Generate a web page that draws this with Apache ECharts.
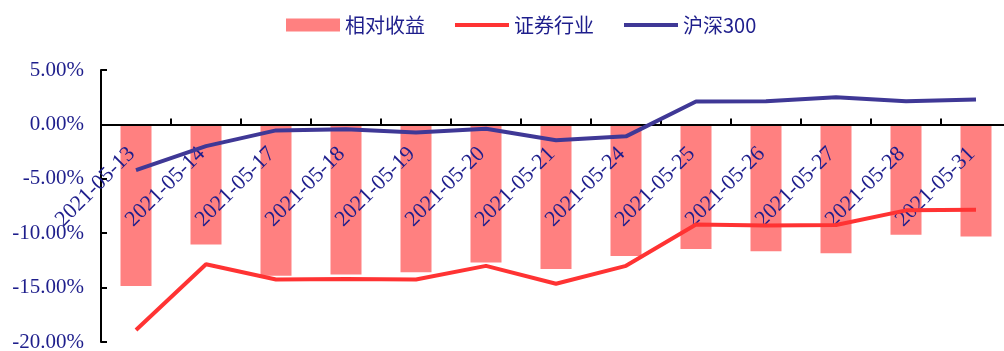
<!DOCTYPE html>
<html>
<head>
<meta charset="utf-8">
<script src="https://cdn.jsdelivr.net/npm/echarts@6/dist/echarts.min.js"></script>
<style>
  html, body { margin: 0; padding: 0; background: #fff; }
  #chart { width: 1004px; height: 351px; }
</style>
</head>
<body>
<div id="chart"></div>
<script>
// Trading days (May 2021)
var categories = ['2021-05-13', '2021-05-14', '2021-05-17', '2021-05-18', '2021-05-19', '2021-05-20',
  '2021-05-21', '2021-05-24', '2021-05-25', '2021-05-26', '2021-05-27', '2021-05-28', '2021-05-31'];

// Cumulative returns, in percent
var relativeReturn = [-14.85, -11.05, -13.9, -13.8, -13.6, -12.7, -13.3, -12.1, -11.45, -11.65, -11.85, -10.15, -10.3];
var brokerIndustry = [-18.9, -12.85, -14.25, -14.2, -14.25, -13.0, -14.65, -13.0, -9.2, -9.3, -9.25, -7.9, -7.85];
var csi300 = [-4.2, -2.0, -0.55, -0.45, -0.75, -0.4, -1.45, -1.1, 2.1, 2.12, 2.5, 2.12, 2.3];

// Value axis ticks
var yMin = -20, yMax = 5, yStep = 5;

var textColor = '#1E1E8C';
var serif = '"Liberation Serif", "Times New Roman", serif';
var cjk = '"Noto Sans CJK SC", sans-serif';

// Plot area
var gridTop = 70, gridHeight = 272;
// Distance from the bottom of the plot up to the zero line
var zeroOffset = gridHeight * (0 - yMin) / (yMax - yMin);

var lineIcon = 'path://M0,0H54V4H0Z';

var chart = echarts.init(document.getElementById('chart'));
chart.setOption({
  animation: false,
  backgroundColor: '#fff',
  legend: {
    left: 281,
    top: 10,
    itemWidth: 54,
    itemHeight: 13,
    itemGap: 30,
    symbolKeepAspect: true,
    textStyle: { color: textColor, fontSize: 20, fontFamily: cjk },
    data: [
      { name: '相对收益', icon: 'rect' },
      { name: '证券行业', icon: lineIcon },
      { name: '沪深300', icon: lineIcon }
    ]
  },
  grid: { left: 101, top: gridTop, width: 910, height: gridHeight, containLabel: false, outerBoundsMode: 'none' },
  xAxis: {
    type: 'category',
    data: categories,
    position: 'bottom',
    offset: -zeroOffset,
    z: 5,
    axisLine: { onZero: false, lineStyle: { color: '#000', width: 2 } },
    axisTick: { show: true, inside: true, length: 6, lineStyle: { color: '#000', width: 2 } },
    axisLabel: {
      rotate: 45,
      interval: 0,
      margin: 22,
      padding: [0, 6, 0, 0],
      color: textColor,
      fontSize: 22,
      fontFamily: serif
    }
  },
  yAxis: {
    type: 'value',
    min: yMin,
    max: yMax,
    interval: yStep,
    z: 5,
    splitLine: { show: false },
    axisLine: { show: true, lineStyle: { color: '#000', width: 2 } },
    axisTick: { show: true, inside: true, length: 6, lineStyle: { color: '#000', width: 2 } },
    axisLabel: {
      margin: 17,
      color: textColor,
      fontSize: 21,
      fontFamily: serif,
      formatter: function (v) { return v.toFixed(2) + '%'; }
    }
  },
  series: [
    {
      name: '相对收益',
      type: 'bar',
      data: relativeReturn,
      barWidth: 31,
      z: 2,
      itemStyle: { color: '#FF8080' }
    },
    {
      name: '证券行业',
      type: 'line',
      data: brokerIndustry,
      z: 10,
      symbol: 'none',
      lineStyle: { color: '#FF3333', width: 4 },
      itemStyle: { color: '#FF3333' }
    },
    {
      name: '沪深300',
      type: 'line',
      data: csi300,
      z: 10,
      symbol: 'none',
      lineStyle: { color: '#3F3896', width: 4 },
      itemStyle: { color: '#3F3896' }
    }
  ]
});
</script>
</body>
</html>
